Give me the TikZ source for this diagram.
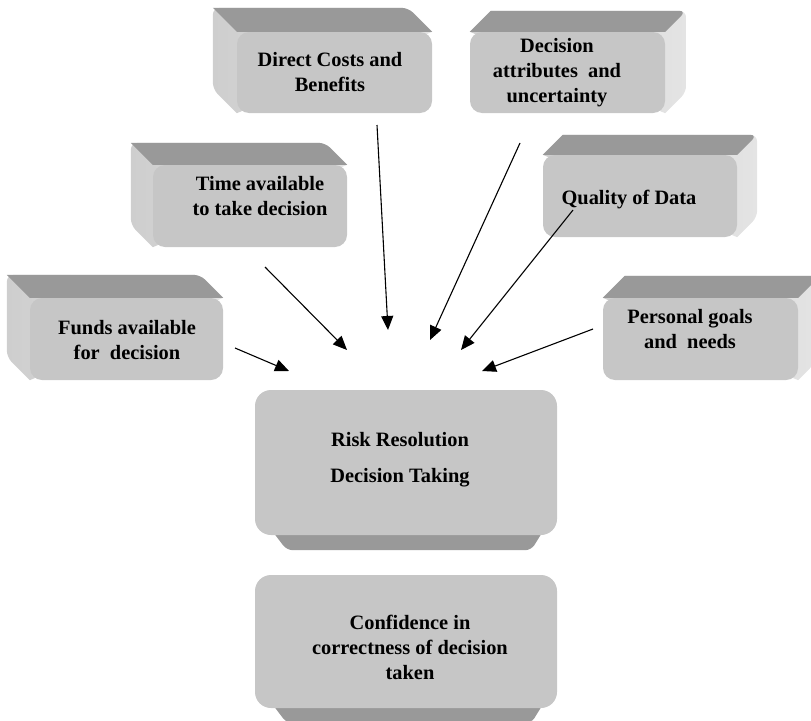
\documentclass[tikz,border=0pt]{standalone}
\usepackage{fontspec}
\setmainfont{Liberation Serif}
\usetikzlibrary{arrows.meta,backgrounds}

\definecolor{facegray}{RGB}{198,198,198}
\definecolor{topgray}{RGB}{153,153,153}
\definecolor{sidelight}{RGB}{228,228,228}
\definecolor{sidemid}{RGB}{206,206,206}

\tikzset{
  face/.style={rectangle, rounded corners=12pt, fill=facegray, draw=none, inner sep=0pt},
  boxtext/.style={font=\bfseries\fontsize{20.4}{25}\selectfont, align=center, text=black, inner sep=0pt},
  flow/.style={-{Triangle[length=14pt,width=12pt]}, line width=1.1pt, black},
}

% extrusion towards the upper left of front face #1, depth #2
\newcommand\extrudeUL[2]{%
  \shade[left color=sidemid, right color=sidelight, rounded corners=7pt]
    ([shift={(-#2,-#2)}]#1.north west) -- ([shift={(-#2,-#2)}]#1.north east)
    [sharp corners] -- (#1.north east) -- (#1.south west)
    [rounded corners=7pt] -- ([shift={(-#2,-#2)}]#1.south west) -- cycle;
  \fill[topgray, rounded corners=7pt]
    ([shift={(-#2,-#2)}]#1.north west) -- ([shift={(-#2,-#2)}]#1.north east)
    [sharp corners] -- (#1.north east) -- (#1.north west) -- cycle;
}
% extrusion towards the upper right of front face #1, depth #2
\newcommand\extrudeUR[2]{%
  \shade[left color=sidemid, right color=sidelight, rounded corners=7pt]
    ([shift={(#2,-#2)}]#1.north west) -- ([shift={(#2,-#2)}]#1.north east)
    -- ([shift={(#2,-#2)}]#1.south east)
    [sharp corners] -- (#1.south east) -- (#1.north west) -- cycle;
  \fill[topgray, rounded corners=7pt]
    ([shift={(#2,-#2)}]#1.north west) -- ([shift={(#2,-#2)}]#1.north east)
    [sharp corners] -- (#1.north east) -- (#1.north west) -- cycle;
}
% extrusion below front face #1
\newcommand\extrudeDown[1]{%
  \fill[topgray]
    ([shift={(10,-14)}]#1.south west) [rounded corners=6pt] -- ([shift={(32,15)}]#1.south west)
    -- ([shift={(-26,15)}]#1.south east) [sharp corners] -- ([shift={(-8,-14)}]#1.south east) -- cycle;
}

\begin{document}
\begin{tikzpicture}[x=1pt,y=-1pt]
\useasboundingbox (0,0) rectangle (811,720);

% front faces
\node[face, minimum width=195pt, minimum height=81pt] (direct)   at (334.5,72.5) {};
\node[face, minimum width=195pt, minimum height=81pt] (attrib)   at (567.5,72.5) {};
\node[face, minimum width=194pt, minimum height=82pt] (time)     at (250,206) {};
\node[face, minimum width=194pt, minimum height=82pt] (quality)  at (640,196) {};
\node[face, minimum width=193pt, minimum height=82pt] (funds)    at (126.5,339) {};
\node[face, minimum width=195pt, minimum height=82pt] (personal) at (700.5,339) {};
\node[face, rounded corners=16pt, minimum width=302pt, minimum height=145pt] (risk) at (406,462.5) {};
\node[face, rounded corners=16pt, minimum width=302pt, minimum height=133pt] (confidence) at (406,641.5) {};

% extrusions behind the faces
\begin{scope}[on background layer]
  \clip (0,0) rectangle (811,720);
  \extrudeUL{direct}{24}
  \extrudeUR{attrib}{21}
  \extrudeUL{time}{22}
  \extrudeUR{quality}{20}
  \extrudeUL{funds}{23}
  \extrudeUR{personal}{22}
  \extrudeDown{risk}
  \extrudeDown{confidence}
\end{scope}

% texts
\node[boxtext] (direct-t)   at (330,72)  {Direct Costs and\\Benefits};
\node[boxtext] (attrib-t)   at (557,73)  {Decision\\attributes~ and\\uncertainty};
\node[boxtext] (time-t)     at (260,196) {Time available\\to take decision};
\node[boxtext] (quality-t)  at (629,200) {Quality of Data};
\node[boxtext] (funds-t)    at (127,340) {Funds available\\for~ decision};
\node[boxtext] (personal-t) at (690,329) {Personal goals\\and~ needs};
\node[boxtext, font=\bfseries\fontsize{20.4}{36}\selectfont] (risk-t) at (400,460) {Risk Resolution\\Decision Taking};
\node[boxtext] (confidence-t) at (410,647) {Confidence in\\correctness of decision\\taken};

% influences converging on the decision
\coordinate (fundsA)    at (235,348);  \coordinate (fundsB)    at (289,371);
\coordinate (timeA)     at (265,267);  \coordinate (timeB)     at (347,350);
\coordinate (directA)   at (377,125);  \coordinate (directB)   at (388,330);
\coordinate (attribA)   at (520,143);  \coordinate (attribB)   at (430,340);
\coordinate (qualityA)  at (573,210);  \coordinate (qualityB)  at (461,350);
\coordinate (personalA) at (593,329);  \coordinate (personalB) at (482,371);

\draw[flow] (fundsA) -- (fundsB);
\draw[flow] (timeA) -- (timeB);
\draw[flow] (directA) -- (directB);
\draw[flow] (attribA) -- (attribB);
\draw[flow] (qualityA) -- (qualityB);
\draw[flow] (personalA) -- (personalB);
\end{tikzpicture}
\end{document}
